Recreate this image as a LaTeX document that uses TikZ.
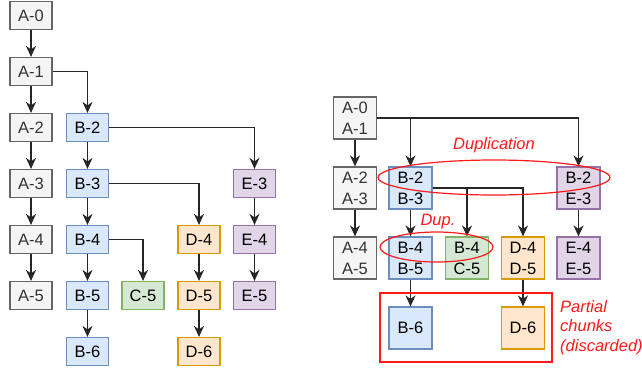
\documentclass[tikz,border=0pt]{standalone}
\usepackage{fontspec}
\setmainfont{Liberation Sans}
\usetikzlibrary{arrows.meta,shapes.geometric}
\definecolor{gfill}{HTML}{F5F5F5}\definecolor{gline}{HTML}{666666}\definecolor{gtext}{HTML}{333333}
\definecolor{bfill}{HTML}{DAE8FC}\definecolor{bline}{HTML}{6C8EBF}
\definecolor{cfill}{HTML}{D5E8D4}\definecolor{cline}{HTML}{82B366}
\definecolor{dfill}{HTML}{FFE6CC}\definecolor{dline}{HTML}{D79B00}
\definecolor{efill}{HTML}{E1D5E7}\definecolor{eline}{HTML}{9673A6}
\definecolor{myred}{HTML}{FF1A1A}
\tikzset{
  box/.style={draw, line width=1.2pt, minimum width=42pt, minimum height=28pt, inner sep=0pt,
    font=\fontsize{16.5}{21}\selectfont, align=center},
  bigbox/.style={box, minimum width=43pt, minimum height=42pt},
  ga/.style={fill=gfill, draw=gline, text=gtext},
  gb/.style={fill=bfill, draw=bline},
  gc/.style={fill=cfill, draw=cline},
  gd/.style={fill=dfill, draw=dline},
  ge/.style={fill=efill, draw=eline},
  arr/.style={draw=black!85, line width=1.4pt, -{Stealth[length=11pt,width=10pt,inset=3.5pt]}},
  redline/.style={draw=myred, line width=1.2pt},
  redtext/.style={text=myred, font=\fontsize{16.5}{19.5}\selectfont\itshape, inner sep=0pt},
}
\begin{document}
\begin{tikzpicture}[x=1pt,y=-1pt]
\useasboundingbox (0,0) rectangle (642,368);
% left tree
\node[box,ga] (A0) at (31,15.5) {A-0};
\node[box,ga] (A1) at (31,71.5) {A-1};
\node[box,ga] (A2) at (31,127.5) {A-2};
\node[box,ga] (A3) at (31,183.5) {A-3};
\node[box,ga] (A4) at (31,239.5) {A-4};
\node[box,ga] (A5) at (31,295.5) {A-5};
\node[box,gb] (B2) at (87.5,127.5) {B-2};
\node[box,gb] (B3) at (87.5,183.5) {B-3};
\node[box,gb] (B4) at (87.5,239.5) {B-4};
\node[box,gb] (B5) at (87.5,295.5) {B-5};
\node[box,gb] (B6) at (87.5,351.5) {B-6};
\node[box,gc] (C5) at (143,295.5) {C-5};
\node[box,gd] (D4) at (199,239.5) {D-4};
\node[box,gd] (D5) at (199,295.5) {D-5};
\node[box,gd] (D6) at (199,351.5) {D-6};
\node[box,ge] (E3) at (254.5,183.5) {E-3};
\node[box,ge] (E4) at (254.5,239.5) {E-4};
\node[box,ge] (E5) at (254.5,295.5) {E-5};
\draw[arr] (A0) -- (A1);
\draw[arr] (A1) -- (A2);
\draw[arr] (A2) -- (A3);
\draw[arr] (A3) -- (A4);
\draw[arr] (A4) -- (A5);
\draw[arr] (A1.east) -| (B2.north);
\draw[arr] (B2) -- (B3);
\draw[arr] (B3) -- (B4);
\draw[arr] (B4) -- (B5);
\draw[arr] (B5) -- (B6);
\draw[arr] (B2.east) -| (E3.north);
\draw[arr] (B3.east) -| (D4.north);
\draw[arr] (B4.east) -| (C5.north);
\draw[arr] (D4) -- (D5);
\draw[arr] (D5) -- (D6);
\draw[arr] (E3) -- (E4);
\draw[arr] (E4) -- (E5);
% right tree
\node[bigbox,ga] (RA01) at (355,118) {A-0\\A-1};
\node[bigbox,ga] (RA23) at (355,188) {A-2\\A-3};
\node[bigbox,ga] (RA45) at (355,258) {A-4\\A-5};
\node[bigbox,gb] (RB23) at (410.5,188) {B-2\\B-3};
\node[bigbox,gb] (RB45) at (410.5,258) {B-4\\B-5};
\node[bigbox,gb] (RB6) at (410.5,328) {B-6};
\node[bigbox,gc] (RC) at (467,258) {B-4\\C-5};
\node[bigbox,gd] (RD45) at (523,258) {D-4\\D-5};
\node[bigbox,gd] (RD6) at (523,328) {D-6};
\node[bigbox,ge] (RE23) at (578.5,188) {B-2\\E-3};
\node[bigbox,ge] (RE45) at (578.5,258) {E-4\\E-5};
\draw[arr] (RA01) -- (RA23);
\draw[arr] (RA23) -- (RA45);
\draw[arr] (RA01.east) -| (RB23.north);
\draw[arr] (RA01.east) -| (RE23.north);
\draw[arr] (RB23) -- (RB45);
\draw[arr] (RB23.east) -| (RC.north);
\draw[arr] (RB23.east) -| (RD45.north);
\draw[arr] (RB45) -- (RB6);
\draw[arr] (RD45) -- (RD6);
\draw[arr] (RE23) -- (RE45);
% annotations
\node[ellipse, redline, minimum width=232pt, minimum height=35pt, inner sep=0pt] (dupell) at (494,177.5) {};
\node[redtext] (duplab) at (494,145.5) {Duplication};
\node[ellipse, redline, minimum width=113pt, minimum height=30pt, inner sep=0pt] (dupell2) at (436.5,247) {};
\node[redtext] (duplab2) at (438,222) {Dup.};
\node[rectangle, redline, minimum width=172pt, minimum height=69pt, inner sep=0pt] (partbox) at (466,327.5) {};
\node[redtext, align=left, anchor=west] (partlab) at (560,327.5) {Partial\\chunks\\(discarded)};
\end{tikzpicture}
\end{document}
